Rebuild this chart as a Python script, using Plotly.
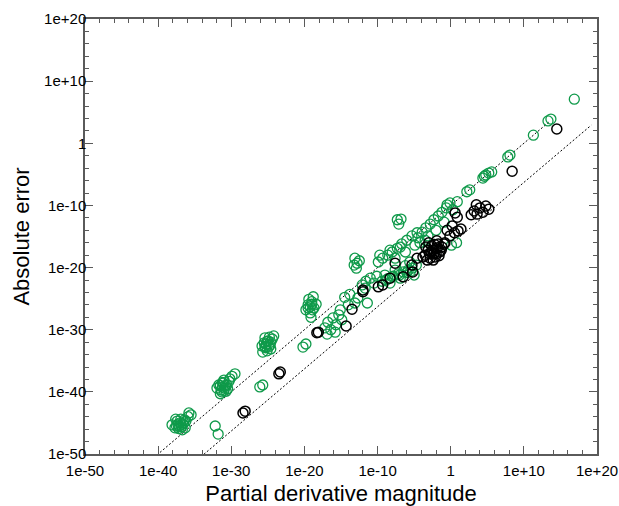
import plotly.graph_objects as go

# ---- data (values, log-log) ----
green_x = [7.9e-39, 2e-38, 4e-38, 7e-38, 1.26e-37, 2.5e-37, 5e-37, 6.3e-37, 1.26e-36, 2.5e-38, 2e-37, 1.6e-36, 3.2e-36, 5e-38,
           1e-37, 1.6e-37, 6.3e-38, 3.2e-37, 1.26e-37, 3.2e-38, 4e-37,
           6.3e-33, 1.6e-32,
           1.1e-32, 2e-32, 4e-32, 7.9e-32, 1.26e-31, 5e-32, 2.5e-31, 5e-31, 1e-31, 3.2e-32, 2e-31, 1.26e-30, 3.2e-30, 6.3e-31,
           6.3e-32, 1e-31, 3.2e-32, 1.6e-31, 6.3e-32, 3.2e-31,
           7.9e-27, 2e-26,
           1.6e-26, 3.2e-26, 5e-26, 1e-25, 2e-25, 7.9e-26, 4e-25, 4e-26, 6.3e-25, 2.5e-25, 2e-26, 1.6e-25,
           6.3e-26, 1.26e-25, 4e-26, 2.5e-25, 7.9e-26,
           6.3e-21, 1.6e-20,
           1.6e-20, 3.2e-20, 6.3e-20, 1e-19, 2e-19, 4e-20, 4e-19, 7.9e-20, 1.6e-19,
           6.3e-20, 1.26e-19, 3.2e-20, 1e-19,
           6.3e-18, 1.6e-17, 4e-17, 7.9e-17, 2e-16, 5e-16, 1.26e-15, 1.26e-17, 1.6e-16, 7.9e-16,
           3.2e-15, 1.6e-14, 7.9e-14, 2e-13, 1e-14, 4e-12,
           7.9e-14, 1.6e-13, 1.26e-13, 3.2e-13, 6.3e-14,
           7.9e-13, 2.5e-12, 1e-11, 3.2e-11, 7.9e-11, 2e-12,
           4e-10, 2.5e-9, 1.26e-8, 6.3e-8, 3.2e-7, 1.6e-6, 5e-6, 2e-5, 1e-9, 2.5e-8, 6.3e-7, 2.5e-6, 1.26e-7, 5e-9, 1e-5,
           1e-8, 1e-7, 1e-6, 1.6e-9, 3.2e-6,
           1.26e-10, 5e-10, 2.5e-9, 1e-8, 5e-8, 2e-7, 1e-6, 5e-6, 2.5e-5, 2e-10, 5e-9, 1.26e-7, 2.5e-8, 6.3e-7,
           5e-8, 7.9e-8, 1.6e-7,
           3.2e-5, 1.26e-4, 4e-4, 1.6e-3, 5e-3, 2e-2, 6.3e-2, 0.25, 6.3e-5, 7.9e-4, 1e-2, 0.126, 1.26e-5, 3.2e-4,
           0.79, 0.32, 7.9, 2.0, 6.3, 1.26,
           400, 160, 2.5e4, 6.3e4, 1.6e5, 4e5, 4e4,
           6.3e7, 1.26e8, 2e11, 2e13, 5e13, 7.9e16]
green_y = [5e-46, 1.6e-46, 2e-45, 3.2e-46, 4e-45, 6.3e-46, 1.6e-46, 2e-45, 1e-44, 4e-45, 7.9e-47, 4e-44, 2e-44, 6.3e-46,
           1e-45, 2.5e-46, 1.26e-46, 1e-45, 5e-46, 3.2e-46, 3.2e-45,
           3.2e-46, 1.6e-47,
           4e-40, 1.26e-39, 2e-40, 2.5e-39, 4e-40, 1e-40, 1.26e-39, 5e-39, 7.9e-39, 5e-41, 1.26e-40, 3.2e-38, 7.9e-38, 1.26e-38,
           6.3e-40, 1.6e-40, 1e-39, 1e-39, 3.2e-39, 3.2e-40,
           6.3e-40, 1.26e-39,
           2.5e-33, 7.9e-33, 1.26e-33, 1.6e-32, 3.2e-33, 4e-34, 3.2e-32, 5e-32, 1e-31, 7.9e-34, 2.5e-34, 6.3e-32,
           5e-33, 1.6e-33, 2e-33, 1e-32, 1.26e-32,
           1.6e-33, 5e-33,
           1.6e-27, 1e-26, 5e-28, 3.2e-26, 3.2e-27, 7.9e-26, 1.26e-26, 1e-28, 2e-25,
           5e-27, 1.6e-27, 3.2e-27, 1.26e-26,
           2e-30, 1.6e-29, 1e-30, 7.9e-29, 6.3e-30, 2.5e-28, 4e-29, 2e-31, 4e-31, 1.6e-27,
           1.6e-25, 5e-25, 2e-26, 1.26e-25, 1e-26, 2e-26,
           3.2e-19, 5e-20, 7.9e-21, 1.26e-19, 2.5e-20,
           1.6e-23, 6.3e-23, 2e-22, 3.2e-23, 4e-22, 5e-24,
           6.3e-23, 1.6e-22, 4e-22, 1e-21, 2e-21, 4e-21, 7.9e-21, 2.5e-20, 6.3e-22, 4e-21, 2e-20, 7.9e-20, 2e-22, 3.2e-23, 6.3e-22,
           3.2e-22, 6.3e-22, 1.6e-21, 1e-22, 2.5e-21,
           7.9e-20, 3.2e-19, 1e-18, 3.2e-18, 1.26e-17, 6.3e-17, 2.5e-16, 1.26e-15, 4e-15, 1e-18, 6.3e-18, 2e-17, 3.2e-19, 3.2e-18,
           5e-13, 1e-13, 6.3e-13,
           6.3e-16, 5e-15, 2.5e-14, 1e-13, 5e-13, 2e-12, 7.9e-12, 4e-11, 1e-16, 1.26e-15, 1e-14, 2e-13, 4e-17, 2.5e-16,
           2.5e-10, 1.26e-10, 4e-10, 2e-11, 1e-16, 4e-17,
           3.2e-8, 1.6e-8, 2.5e-6, 7.9e-6, 1.6e-5, 2.5e-5, 5e-6,
           6.3e-3, 1.26e-2, 20, 4e3, 7.9e3, 1.26e7]

black_x = [4e-29, 7.9e-29, 3.2e-24, 5e-24, 7.9e-19, 5e-19, 5e-15, 3.2e-14, 1e-12, 1e-12,
           1.26e-10, 5e-10, 5e-9, 2.5e-8, 3.2e-7, 5e-6, 6.3e-6, 2.5e-5, 1.6e-4,
           3.2e-4, 7.9e-4, 1.6e-3, 2.5e-3, 5e-3, 1e-2, 2e-2, 3.2e-2, 6.3e-4, 6.3e-2, 1e-3, 7.9e-3, 1.26e-2, 2e-3, 4e-4, 2.5e-2, 4e-3, 0.126,
           3.2e-3, 1e-2, 1.6e-2, 1.26e-3, 5e-2, 6.3e-3,
           0.16, 0.79, 3.2, 10, 25, 0.32, 1.6, 4, 7.9,
           630, 1.6e3, 4e3, 1e4, 2.5e4, 6.3e4, 1.6e5, 3.2e3,
           2.5e8, 3.2e14]
black_y = [4e-44, 7.9e-44, 7.9e-38, 1.6e-37, 4e-31, 3.2e-31, 4e-30, 2e-27, 1.26e-24, 2.5e-24,
           7.9e-24, 1.6e-23, 2e-22, 5e-20, 3.2e-22, 2.5e-20, 2e-21, 3.2e-19, 5e-19,
           1e-18, 6.3e-18, 3.2e-19, 3.2e-17, 2e-18, 1e-17, 6.3e-17, 3.2e-18, 1.6e-19, 2e-17, 1e-16, 5e-19, 2e-16, 3.2e-18, 2e-17, 7.9e-19, 1.6e-19, 6.3e-17,
           6.3e-18, 1.6e-18, 1.6e-17, 1.6e-18, 6.3e-18, 5e-17,
           1e-16, 1.26e-15, 4e-15, 7.9e-15, 1.6e-14, 1e-14, 5e-14, 6.3e-12, 1.26e-12,
           3.2e-12, 1.26e-11, 4e-12, 4e-11, 7.9e-12, 7.9e-11, 2.5e-11, 1.26e-10,
           3.2e-5, 200]

# reference lines: error = factor * magnitude over an x span
upper_factor = 1e-10
upper_span = [1e-41, 3e13]
lower_factor = 5e-17
lower_span = [1e-35, 1.6e19]

tick_vals = [1e-50, 1e-40, 1e-30, 1e-20, 1e-10, 1, 1e10, 1e20]
tick_text = ["1e-50", "1e-40", "1e-30", "1e-20", "1e-10", "1", "1e+10", "1e+20"]
minor_vals = [10.0 ** e for e in range(-50, 21, 2) if e % 10 != 0]

GREEN = "#0f9a4a"
FONT = "Liberation Sans, Arial, sans-serif"

fig = go.Figure()
for span, fac in [(upper_span, upper_factor), (lower_span, lower_factor)]:
    fig.add_trace(go.Scatter(x=span, y=[v * fac for v in span], mode="lines",
                             line=dict(color="black", width=1, dash="2px,2px"),
                             hoverinfo="skip", showlegend=False))
fig.add_trace(go.Scatter(x=green_x, y=green_y, mode="markers", showlegend=False,
                         marker=dict(symbol="circle-open", size=10, color=GREEN, line=dict(width=1.3, color=GREEN))))
fig.add_trace(go.Scatter(x=black_x, y=black_y, mode="markers", showlegend=False,
                         marker=dict(symbol="circle-open", size=10, color="black", line=dict(width=1.5, color="black"))))

axis_common = dict(type="log", tickvals=tick_vals, ticktext=tick_text, ticks="inside", ticklen=8,
                   tickwidth=1.2, tickcolor="#5a5a5a", showline=True, linecolor="#5a5a5a", linewidth=1.5,
                   mirror="ticks", showgrid=False, zeroline=False, automargin=False,
                   tickfont=dict(family=FONT, size=15, color="black"),
                   minor=dict(tickvals=minor_vals, ticks="inside", ticklen=4, tickwidth=1.2, tickcolor="#5a5a5a", showgrid=False))

fig.update_xaxes(range=[-50, 20], title=dict(text="Partial derivative magnitude", font=dict(family=FONT, size=22, color="black"), standoff=8),
                 ticklabelstandoff=2, **axis_common)
fig.update_yaxes(range=[-50, 20], title=dict(text="Absolute error", font=dict(family=FONT, size=22, color="black"), standoff=8),
                 ticklabelstandoff=-6, **axis_common)

fig.update_layout(width=619, height=506, margin=dict(l=85, r=22, t=19, b=52),
                  plot_bgcolor="white", paper_bgcolor="white")

fig.write_html("out.html")
